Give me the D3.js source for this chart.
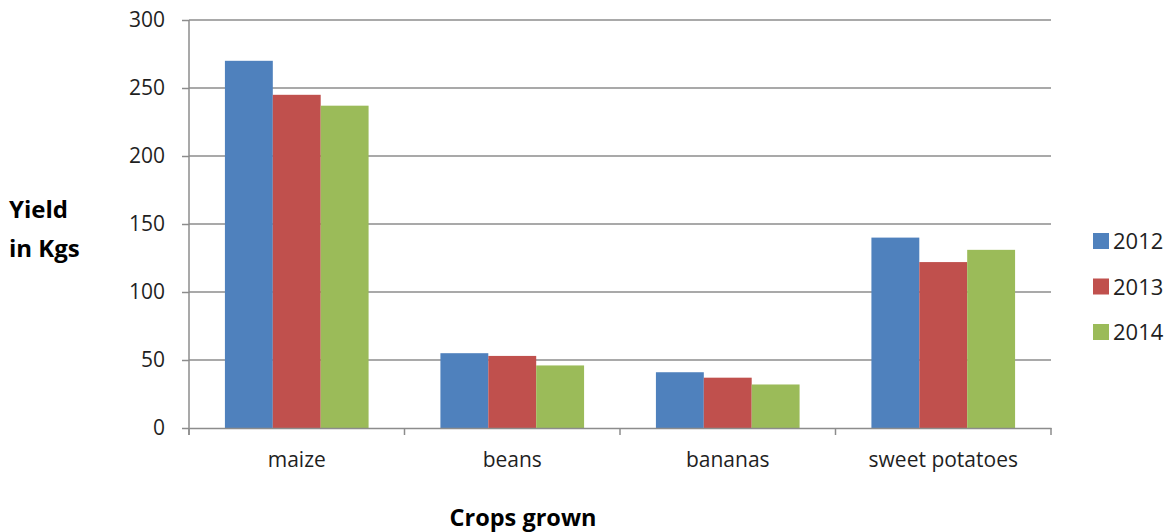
<!DOCTYPE html>
<html><head><meta charset="utf-8">
<script src="https://cdn.jsdelivr.net/npm/d3@7"></script>
<style>body{margin:0;background:#fff;}svg{display:block;font-family:"Open Sans",sans-serif;}</style>
</head><body><svg id="c" width="1175" height="532"></svg>
<script>
const categories = ["maize","beans","bananas","sweet potatoes"];
const seriesNames = ["2012","2013","2014"];
const values2012 = [270,55,41,140];
const values2013 = [245,53,37,122];
const values2014 = [237,46,32,131];
const yTicks = [0,50,100,150,200,250,300];
const colors = ["#4F81BD","#C0504D","#9BBB59"];

const svg = d3.select("#c");
const L=189,R=1051,T=20,B=428;
const x = d3.scaleBand().domain(categories).range([L,R]);
const xs = d3.scaleBand().domain(seriesNames).range([0,x.bandwidth()]).paddingOuter(0.75).paddingInner(0);
const y = d3.scaleLinear().domain([0,300]).range([B,T]);
const grid="#8c8c8c";
const txt="#1f1f1f";

svg.append("g").selectAll("line").data(yTicks.filter(d=>d>0)).join("line")
  .attr("x1",L).attr("x2",R).attr("y1",d=>y(d)).attr("y2",d=>y(d))
  .attr("stroke",grid).attr("stroke-width",1.5);

const data = [values2012,values2013,values2014];
categories.forEach((c,i)=>{
  seriesNames.forEach((s,j)=>{
    svg.append("rect").attr("x",x(c)+xs(s)).attr("width",xs.bandwidth())
      .attr("y",y(data[j][i])).attr("height",B-y(data[j][i])).attr("fill",colors[j]);
  });
});

const yAxis = d3.axisLeft(y).tickValues(yTicks).tickSize(7).tickPadding(17);
const gy = svg.append("g").attr("transform",`translate(${L},0)`).call(yAxis);
gy.select(".domain").attr("stroke",grid).attr("stroke-width",1.5).attr("d",`M0,${T}V${B+7}`);
gy.selectAll(".tick line").attr("stroke",grid).attr("stroke-width",1.5);
gy.selectAll("text").attr("font-size",21).attr("fill",txt).attr("font-family","'Open Sans',sans-serif");

const gx = svg.append("g").attr("transform",`translate(0,${B})`).call(d3.axisBottom(x).tickSize(0).tickPadding(24));
gx.select(".domain").attr("stroke",grid).attr("stroke-width",1.5);
gx.selectAll("text").attr("font-size",21).attr("fill",txt).attr("font-family","'Open Sans',sans-serif");
const bounds = categories.map(c=>x(c)).concat([R]);
svg.append("g").selectAll("line").data(bounds).join("line")
  .attr("x1",d=>d).attr("x2",d=>d).attr("y1",B).attr("y2",B+7)
  .attr("stroke",grid).attr("stroke-width",1.5);

svg.append("text").attr("x",9).attr("y",218).attr("font-size",24).attr("font-weight","bold").attr("fill","#000").text("Yield");
svg.append("text").attr("x",9).attr("y",257).attr("font-size",24).attr("font-weight","bold").attr("fill","#000").text("in Kgs");
svg.append("text").attr("x",523).attr("y",526).attr("text-anchor","middle").attr("font-size",23.5).attr("font-weight","bold").attr("fill","#000").text("Crops grown");

const lg = svg.append("g").selectAll("g").data(seriesNames).join("g")
  .attr("transform",(d,i)=>`translate(1093,${233+i*45.5})`);
lg.append("rect").attr("width",16).attr("height",16).attr("fill",(d,i)=>colors[i]);
lg.append("text").attr("x",20).attr("y",16).attr("font-size",22).attr("fill",txt).text(d=>d);
</script></body></html>
